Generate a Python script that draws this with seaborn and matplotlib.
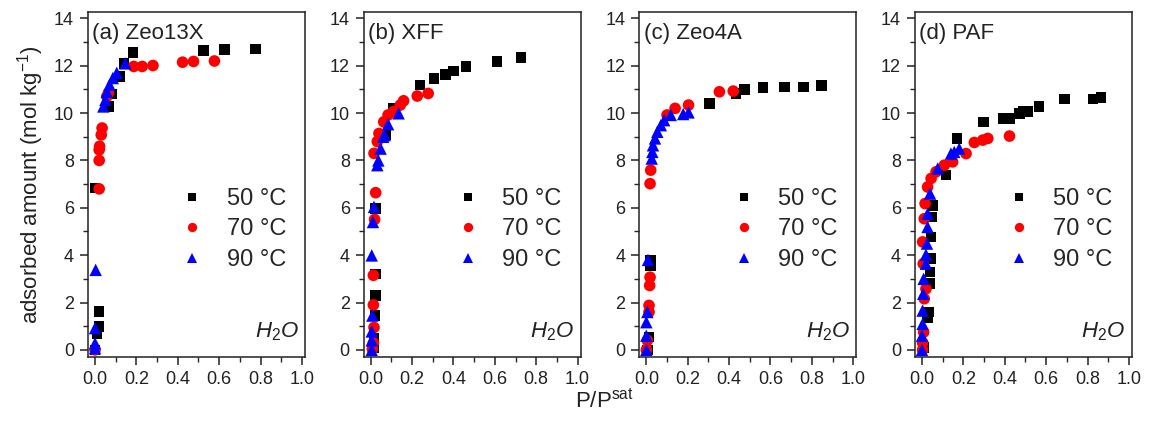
import numpy as np
import pandas as pd
import matplotlib
matplotlib.use("Agg")
import matplotlib.pyplot as plt
import seaborn as sns
from matplotlib.ticker import MultipleLocator

# ---------------- data ----------------
temps = ["50 °C", "70 °C", "90 °C"]
panel_titles = ["(a) Zeo13X", "(b) XFF", "(c) Zeo4A", "(d) PAF"]

# (a) Zeo13X
a50_x = [0.0, 0.01, 0.02, 0.02, 0.0, 0.068, 0.08, 0.12, 0.14, 0.184, 0.525, 0.626, 0.776]
a50_y = [0.0, 0.7, 1.0, 1.62, 6.83, 10.28, 10.8, 11.55, 12.1, 12.56, 12.65, 12.68, 12.7]
a70_x = [0.0, 0.02, 0.02, 0.02, 0.022, 0.03, 0.034, 0.057, 0.065, 0.187, 0.228, 0.28, 0.423, 0.476, 0.577]
a70_y = [0.0, 6.8, 8.0, 8.45, 8.6, 9.08, 9.37, 10.7, 10.85, 11.97, 11.97, 12.01, 12.15, 12.18, 12.2]
a90_x = [0.0, 0.0, 0.0, 0.003, 0.04, 0.05, 0.057, 0.07, 0.086, 0.105, 0.146]
a90_y = [0.07, 0.28, 0.92, 3.38, 10.28, 10.56, 10.9, 11.2, 11.48, 11.7, 12.1]

# (b) XFF
b50_x = [0.013, 0.016, 0.02, 0.024, 0.024, 0.024, 0.071, 0.11, 0.238, 0.305, 0.362, 0.4, 0.46, 0.611, 0.727]
b50_y = [0.1, 0.47, 1.45, 2.3, 3.2, 5.97, 9.07, 10.2, 11.18, 11.47, 11.64, 11.78, 11.96, 12.17, 12.34]
b70_x = [0.008, 0.013, 0.016, 0.013, 0.013, 0.019, 0.024, 0.016, 0.032, 0.04, 0.063, 0.084, 0.11, 0.143, 0.159, 0.225, 0.278]
b70_y = [0.04, 0.3, 0.95, 1.9, 3.15, 5.51, 6.64, 8.3, 8.8, 9.14, 9.63, 9.92, 10.06, 10.34, 10.52, 10.72, 10.83]
b90_x = [0.005, 0.005, 0.005, 0.008, 0.005, 0.011, 0.016, 0.032, 0.037, 0.048, 0.06, 0.068, 0.084, 0.135]
b90_y = [0.0, 0.4, 0.78, 1.45, 3.99, 5.4, 6.04, 7.8, 8.0, 8.5, 9.0, 9.07, 9.53, 9.99]

# (c) Zeo4A
c50_x = [0.005, 0.013, 0.021, 0.021, 0.304, 0.434, 0.474, 0.563, 0.668, 0.76, 0.846]
c50_y = [0.0, 0.54, 3.57, 3.78, 10.41, 10.83, 11.0, 11.07, 11.11, 11.11, 11.16]
c70_x = [0.0, 0.005, 0.013, 0.013, 0.016, 0.018, 0.018, 0.021, 0.1, 0.139, 0.204, 0.353, 0.42]
c70_y = [0.0, 0.4, 1.6, 1.88, 2.72, 3.07, 7.02, 7.59, 9.92, 10.2, 10.34, 10.9, 10.93]
c90_x = [0.0, 0.0, 0.0, 0.005, 0.008, 0.026, 0.029, 0.032, 0.042, 0.053, 0.07, 0.086, 0.118, 0.178, 0.204]
c90_y = [0.0, 0.6, 1.17, 1.6, 3.8, 8.08, 8.36, 8.64, 8.93, 9.21, 9.49, 9.7, 9.92, 9.96, 10.03]

# (d) PAF
d50_x = [0.01, 0.027, 0.032, 0.039, 0.039, 0.044, 0.044, 0.048, 0.052, 0.116, 0.169, 0.297, 0.394,
         0.423, 0.471, 0.49, 0.511, 0.565, 0.689, 0.826, 0.866]
d50_y = [0.1, 1.38, 1.6, 2.8, 3.29, 3.85, 4.77, 5.61, 6.1, 7.38, 8.93, 9.63, 9.77,
         9.77, 9.98, 10.06, 10.06, 10.27, 10.59, 10.59, 10.65]
d70_x = [0.003, 0.003, 0.008, 0.011, 0.019, 0.006, 0.003, 0.011, 0.015, 0.027, 0.044, 0.068, 0.108,
         0.148, 0.213, 0.253, 0.294, 0.318, 0.423]
d70_y = [0.0, 0.3, 0.75, 2.16, 2.58, 3.64, 4.56, 5.54, 6.18, 6.88, 7.24, 7.52, 7.8,
         7.94, 8.29, 8.76, 8.86, 8.93, 9.03]
d90_x = [0.0, 0.0, 0.003, 0.003, 0.006, 0.008, 0.019, 0.019, 0.024, 0.027, 0.027, 0.039, 0.076, 0.14, 0.156, 0.18]
d90_y = [0.0, 0.6, 1.1, 1.66, 2.37, 3.0, 3.64, 4.02, 4.49, 5.19, 5.75, 6.6, 7.66, 8.29, 8.36, 8.5]

series = [
    [(a50_x, a50_y), (a70_x, a70_y), (a90_x, a90_y)],
    [(b50_x, b50_y), (b70_x, b70_y), (b90_x, b90_y)],
    [(c50_x, c50_y), (c70_x, c70_y), (c90_x, c90_y)],
    [(d50_x, d50_y), (d70_x, d70_y), (d90_x, d90_y)],
]

rows = []
for pi, panel in enumerate(series):
    for ti, (xs, ys) in enumerate(panel):
        for xv, yv in zip(xs, ys):
            rows.append({"panel": pi, "temp": temps[ti], "x": xv, "y": yv})
df = pd.DataFrame(rows)

# ---------------- style ----------------
sns.set_theme(style="ticks")
plt.rcParams["font.family"] = ["Liberation Sans", "DejaVu Sans"]
plt.rcParams["mathtext.fontset"] = "custom"
plt.rcParams["mathtext.rm"] = "Liberation Sans"
plt.rcParams["mathtext.it"] = "Liberation Sans:italic"

palette = {"50 °C": "#000000", "70 °C": "#ff0000", "90 °C": "#0000ff"}
markers = {"50 °C": "s", "70 °C": "o", "90 °C": "^"}
msizes = {"50 °C": 58, "70 °C": 70, "90 °C": 80}

fig, axes = plt.subplots(1, 4, figsize=(11.52, 4.21), dpi=100)
fig.subplots_adjust(left=88 / 1152, right=1132 / 1152, bottom=0.152, top=0.971, wspace=0.27)

for pi, ax in enumerate(axes):
    sub = df[df["panel"] == pi]
    sns.scatterplot(data=sub, x="x", y="y", hue="temp", style="temp", size="temp",
                    hue_order=temps, style_order=temps, size_order=temps,
                    palette=palette, markers=markers, sizes=msizes, linewidth=0,
                    ax=ax, zorder=3)
    ax.set_xlim(-0.034, 1.015)
    ax.set_ylim(-0.3, 14.26)
    ax.xaxis.set_major_locator(MultipleLocator(0.2))
    ax.xaxis.set_minor_locator(MultipleLocator(0.1))
    ax.yaxis.set_major_locator(MultipleLocator(2))
    ax.yaxis.set_minor_locator(MultipleLocator(1))
    ax.set_xticks(np.arange(0, 1.01, 0.2))
    ax.set_xticklabels([f"{v:.1f}" for v in np.arange(0, 1.01, 0.2)])
    ax.tick_params(axis="both", which="major", direction="out", length=6, width=1.1,
                   labelsize=13, colors="#222222", pad=4)
    ax.tick_params(axis="both", which="minor", direction="out", length=3.5, width=1.0)
    for sp in ax.spines.values():
        sp.set_visible(True)
        sp.set_linewidth(1.1)
        sp.set_color("#222222")
    ax.set_xlabel("")
    ax.set_ylabel("")
    ax.text(0.02, 0.97, panel_titles[pi], transform=ax.transAxes, ha="left", va="top",
            fontsize=16, color="#222222")
    ax.text(0.97, 0.04, r"$H_2O$", transform=ax.transAxes, ha="right", va="bottom",
            fontsize=16, color="#222222")
    handles, labels = ax.get_legend_handles_labels()
    ax.legend(handles, labels, loc="center left", bbox_to_anchor=(0.35, 0.37),
              frameon=False, fontsize=17, markerscale=0.8, handlelength=1.0,
              handletextpad=0.95, labelspacing=0.36, borderpad=0.2)

axes[0].set_ylabel("adsorbed amount (mol kg$^{-1}$)", fontsize=16, color="#222222", labelpad=6)
fig.text(0.525, 0.02, r"P/P$^{\mathrm{sat}}$", ha="center", va="bottom", fontsize=16, color="#222222")

fig.savefig("out.png", dpi=100, facecolor="white")
